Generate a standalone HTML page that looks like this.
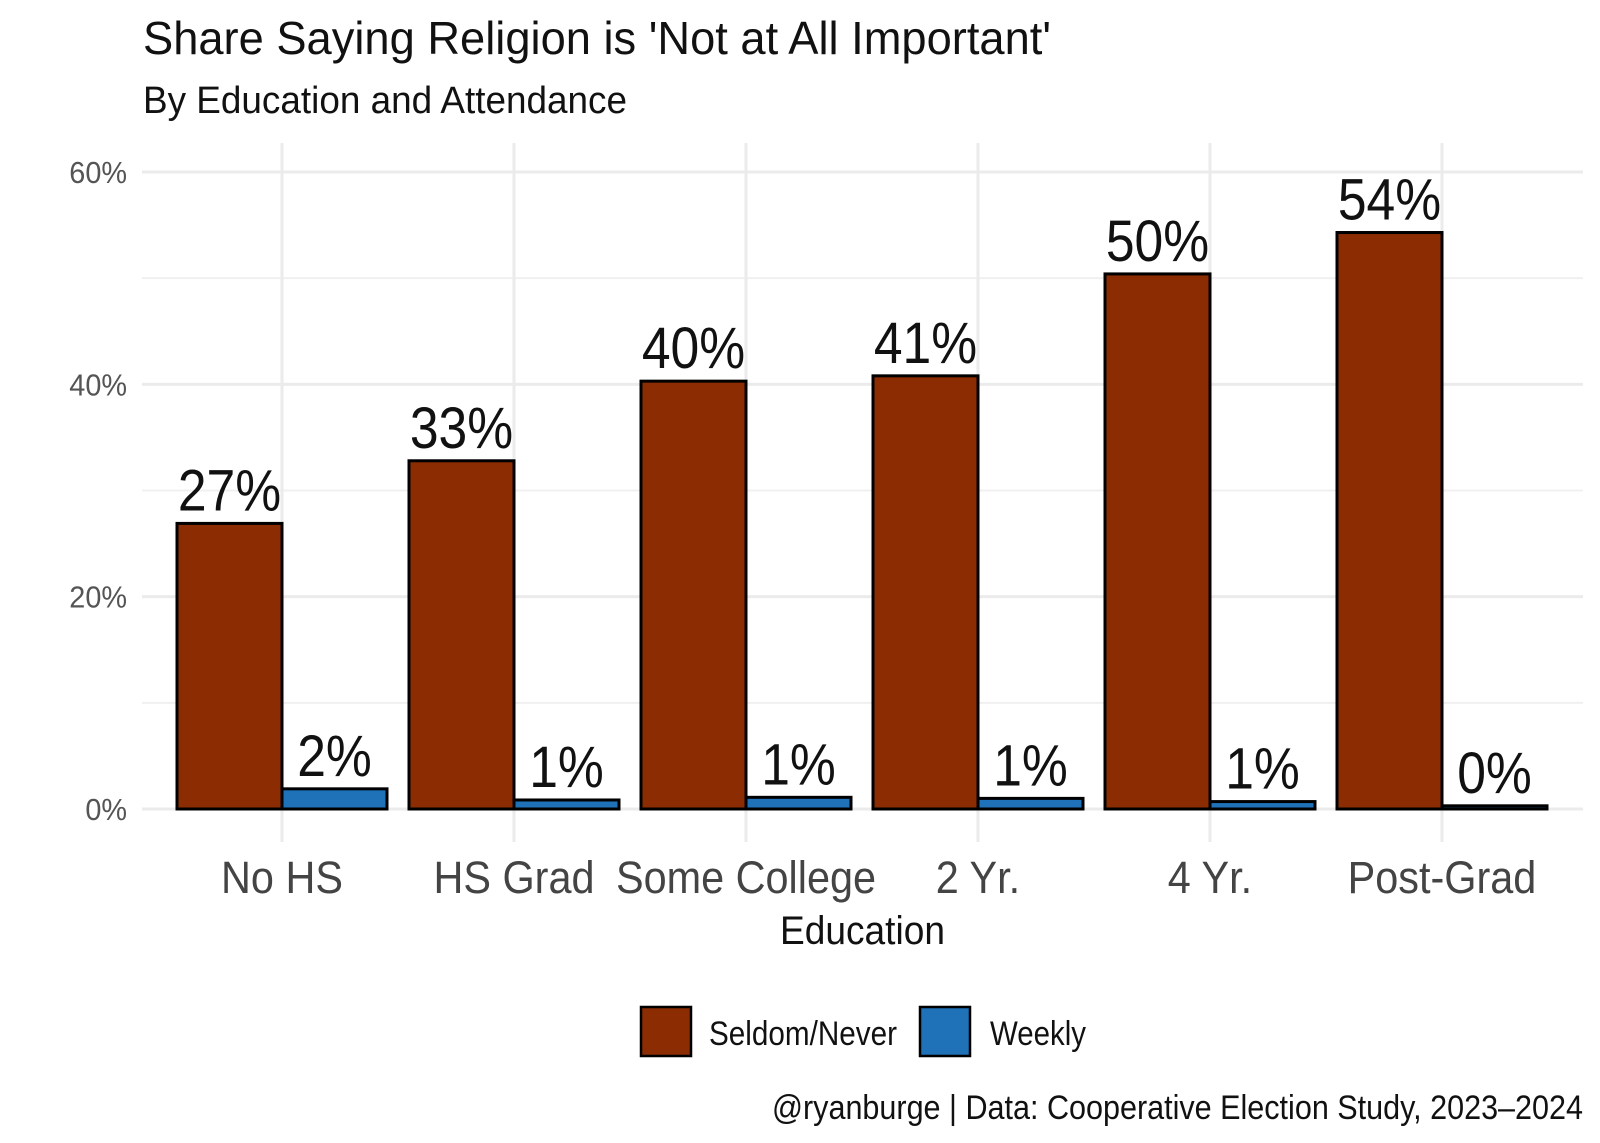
<!DOCTYPE html>
<html><head><meta charset="utf-8"><style>
body{margin:0;background:#fff;}
svg{display:block;font-family:"Liberation Sans Narrow","Liberation Sans",sans-serif;}
</style></head><body>
<svg id="chart" width="1600" height="1143" viewBox="0 0 1600 1143">
<text x="143" y="54" font-size="46" fill="#111" textLength="908" lengthAdjust="spacingAndGlyphs">Share Saying Religion is 'Not at All Important'</text>
<text x="143" y="113" font-size="38" fill="#111" textLength="484" lengthAdjust="spacingAndGlyphs">By Education and Attendance</text>
<g id="grid"></g><g id="bars"></g><g id="labels"></g>
<text x="780" y="944" font-size="40" fill="#111" textLength="165" lengthAdjust="spacingAndGlyphs">Education</text>
<rect x="641" y="1007" width="50" height="49" fill="#8B2C02" stroke="#000" stroke-width="2.5"/>
<text x="709" y="1045" font-size="34" fill="#111" textLength="188" lengthAdjust="spacingAndGlyphs">Seldom/Never</text>
<rect x="920" y="1007" width="50" height="49" fill="#1F71B8" stroke="#000" stroke-width="2.5"/>
<text x="990" y="1045" font-size="34" fill="#111" textLength="96" lengthAdjust="spacingAndGlyphs">Weekly</text>
<text x="772" y="1119" font-size="34" fill="#111" textLength="811" lengthAdjust="spacingAndGlyphs">@ryanburge | Data: Cooperative Election Study, 2023–2024</text>
</svg>
<script>
const categories=["No HS","HS Grad","Some College","2 Yr.","4 Yr.","Post-Grad"];
const seldomValues=[26.9,32.8,40.3,40.8,50.4,54.3];
const weeklyValues=[1.9,0.85,1.1,1.0,0.7,0.3];
const seldomLabels=["27%","33%","40%","41%","50%","54%"];
const weeklyLabels=["2%","1%","1%","1%","1%","0%"];
const yTicks=[0,20,40,60];
const yMinor=[10,30,50];
const NS="http://www.w3.org/2000/svg";
const y=v=>809-v*(637/60);
const x=i=>282+i*232;
const bw=105;
function mk(tag,attrs,parent){const e=document.createElementNS(NS,tag);for(const k in attrs)e.setAttribute(k,attrs[k]);parent.appendChild(e);return e;}
function squeeze(t,k){const w=t.getComputedTextLength();t.setAttribute('textLength',w*k);t.setAttribute('lengthAdjust','spacingAndGlyphs');}
const grid=document.getElementById('grid'),bars=document.getElementById('bars'),labels=document.getElementById('labels');
yMinor.forEach(v=>{const l=mk('line',{x1:142,x2:1583,y1:y(v),y2:y(v),stroke:'#f0f0f0','stroke-width':2},grid);

});
yTicks.forEach(v=>{const l=mk('line',{x1:142,x2:1583,y1:y(v),y2:y(v),stroke:'#ebebeb','stroke-width':3},grid);


const t=mk('text',{x:127,y:y(v)+11,'font-size':31,'text-anchor':'end',fill:'#555'},grid);t.textContent=v+'%';squeeze(t,0.93);

});
categories.forEach((c,i)=>{const l=mk('line',{x1:x(i),x2:x(i),y1:143,y2:842,stroke:'#ebebeb','stroke-width':3},grid);


const t=mk('text',{x:x(i),y:893,'font-size':45,'text-anchor':'middle',fill:'#444'},labels);t.textContent=c;squeeze(t,0.92);


const b1=mk('rect',{x:x(i)-bw,y:y(seldomValues[i]),width:bw,height:y(0)-y(seldomValues[i]),fill:'#8B2C02',stroke:'#000','stroke-width':3},bars);


const b2=mk('rect',{x:x(i),y:y(weeklyValues[i]),width:bw,height:y(0)-y(weeklyValues[i]),fill:'#1F71B8',stroke:'#000','stroke-width':3},bars);


const l1=mk('text',{x:x(i)-bw/2,y:y(seldomValues[i])-13,'font-size':58,'text-anchor':'middle',fill:'#111'},labels);l1.textContent=seldomLabels[i];squeeze(l1,0.89);


const l2=mk('text',{x:x(i)+bw/2,y:y(weeklyValues[i])-13,'font-size':58,'text-anchor':'middle',fill:'#111'},labels);l2.textContent=weeklyLabels[i];squeeze(l2,0.89);

});
</script>
</body></html>
